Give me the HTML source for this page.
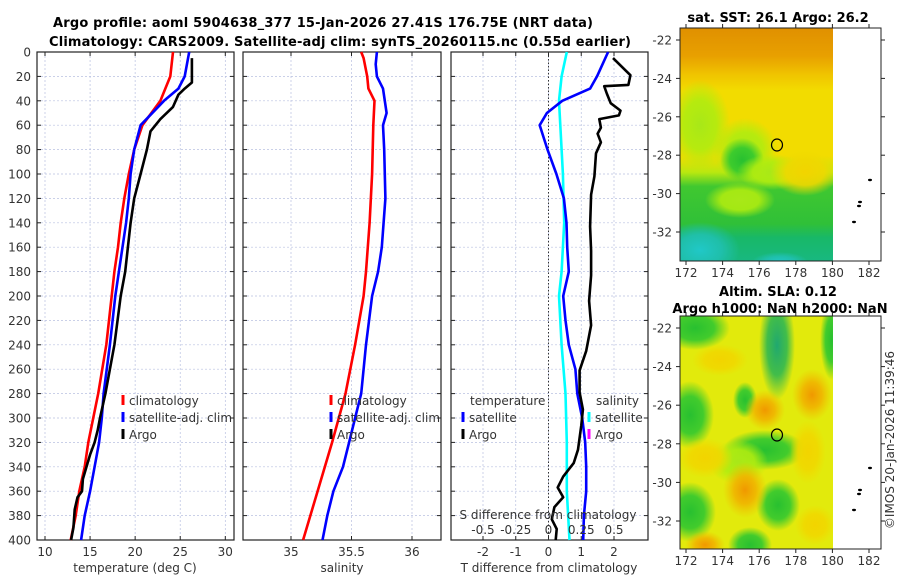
<!DOCTYPE html>
<html><head><meta charset="utf-8">
<style>
html,body{margin:0;padding:0;background:#fff;}
svg{display:block;font-family:"DejaVu Sans","Liberation Sans",sans-serif;}
.t{font-size:12px;fill:#333;}
.b{font-size:13px;font-weight:bold;fill:#000;}
</style></head>
<body>
<svg id="fig" width="900" height="580" viewBox="0 0 900 580" xmlns="http://www.w3.org/2000/svg">
<defs>
<radialGradient id="rgGreen"><stop offset="0" stop-color="#28c030"/><stop offset="0.55" stop-color="#30c830" stop-opacity="0.9"/><stop offset="1" stop-color="#30c830" stop-opacity="0"/></radialGradient>
<radialGradient id="rgTeal"><stop offset="0" stop-color="#20a870"/><stop offset="0.55" stop-color="#30b850" stop-opacity="0.9"/><stop offset="1" stop-color="#30b850" stop-opacity="0"/></radialGradient>
<radialGradient id="rgLime"><stop offset="0" stop-color="#a8e818"/><stop offset="0.55" stop-color="#b0ec10" stop-opacity="0.9"/><stop offset="1" stop-color="#b0ec10" stop-opacity="0"/></radialGradient>
<radialGradient id="rgOrange"><stop offset="0" stop-color="#f09800"/><stop offset="0.5" stop-color="#f0b400" stop-opacity="0.9"/><stop offset="1" stop-color="#f0c000" stop-opacity="0"/></radialGradient>
<radialGradient id="rgYellow"><stop offset="0" stop-color="#f2d400"/><stop offset="0.55" stop-color="#f0d800" stop-opacity="0.9"/><stop offset="1" stop-color="#f0dc00" stop-opacity="0"/></radialGradient>
<radialGradient id="rgCyan"><stop offset="0" stop-color="#20c8c8"/><stop offset="0.55" stop-color="#20c0b0" stop-opacity="0.9"/><stop offset="1" stop-color="#20c0b0" stop-opacity="0"/></radialGradient>
<linearGradient id="lgSST" x1="0" y1="0" x2="0" y2="1">
<stop offset="0" stop-color="#e09000"/><stop offset="0.12" stop-color="#e8a000"/><stop offset="0.2" stop-color="#f0c400"/><stop offset="0.27" stop-color="#f2dc00"/>
<stop offset="0.55" stop-color="#f2dc00"/><stop offset="0.62" stop-color="#b8e810"/><stop offset="0.68" stop-color="#40c830"/><stop offset="0.84" stop-color="#30c038"/><stop offset="0.9" stop-color="#18b868"/><stop offset="1" stop-color="#18b880"/>
</linearGradient>
<clipPath id="clipSST"><rect x="680" y="28" width="153" height="233"/></clipPath>
<clipPath id="clipSLA"><rect x="680" y="316" width="153" height="233"/></clipPath>
</defs>
<text class="b" x="323" y="27" text-anchor="middle" textLength="540">Argo profile: aoml 5904638_377 15-Jan-2026 27.41S 176.75E (NRT data)</text>
<text class="b" x="340" y="46" text-anchor="middle" textLength="582">Climatology: CARS2009. Satellite-adj clim: synTS_20260115.nc (0.55d earlier)</text>
<g id="panels"></g>

<!-- SST map -->
<g>
<g clip-path="url(#clipSST)">
<rect x="680" y="28" width="153" height="233" fill="url(#lgSST)"/>
<ellipse cx="700" cy="125" rx="30" ry="45" fill="url(#rgLime)"/>
<ellipse cx="745" cy="150" rx="32" ry="32" fill="url(#rgLime)"/>
<ellipse cx="742" cy="160" rx="22" ry="22" fill="url(#rgGreen)"/>
<ellipse cx="772" cy="172" rx="35" ry="18" fill="url(#rgLime)"/>
<ellipse cx="805" cy="172" rx="35" ry="24" fill="url(#rgYellow)"/>
<ellipse cx="740" cy="200" rx="35" ry="18" fill="url(#rgLime)"/>
<ellipse cx="700" cy="250" rx="40" ry="28" fill="url(#rgCyan)"/>
<ellipse cx="780" cy="262" rx="28" ry="10" fill="url(#rgCyan)"/>
</g>
<rect x="680" y="28" width="201" height="233" fill="none" stroke="#222" stroke-width="1"/>
<ellipse cx="777" cy="145" rx="5.5" ry="6" fill="none" stroke="#000" stroke-width="1.2"/>
<text class="b" x="778" y="22" text-anchor="middle">sat. SST: 26.1 Argo: 26.2</text>
</g>

<!-- SLA map -->
<g>
<g clip-path="url(#clipSLA)">
<rect x="680" y="316" width="153" height="233" fill="#e2ea0c"/>
<ellipse cx="695" cy="328" rx="35" ry="22" fill="url(#rgGreen)"/>
<ellipse cx="777" cy="345" rx="18" ry="55" fill="url(#rgTeal)"/>
<ellipse cx="832" cy="340" rx="12" ry="40" fill="url(#rgGreen)"/>
<ellipse cx="690" cy="415" rx="24" ry="34" fill="url(#rgGreen)"/>
<ellipse cx="745" cy="400" rx="12" ry="18" fill="url(#rgGreen)"/>
<ellipse cx="765" cy="450" rx="42" ry="20" fill="url(#rgGreen)"/>
<ellipse cx="738" cy="462" rx="30" ry="22" fill="url(#rgLime)"/>
<ellipse cx="690" cy="512" rx="26" ry="30" fill="url(#rgGreen)"/>
<ellipse cx="778" cy="505" rx="22" ry="26" fill="url(#rgGreen)"/>
<ellipse cx="750" cy="545" rx="22" ry="18" fill="url(#rgGreen)"/>
<ellipse cx="720" cy="360" rx="28" ry="16" fill="url(#rgYellow)"/>
<ellipse cx="765" cy="410" rx="20" ry="20" fill="url(#rgOrange)"/>
<ellipse cx="812" cy="395" rx="20" ry="26" fill="url(#rgOrange)"/>
<ellipse cx="745" cy="490" rx="22" ry="28" fill="url(#rgOrange)"/>
<ellipse cx="808" cy="452" rx="18" ry="32" fill="url(#rgYellow)"/>
<ellipse cx="705" cy="458" rx="28" ry="20" fill="url(#rgYellow)"/>
<ellipse cx="705" cy="545" rx="20" ry="14" fill="url(#rgOrange)"/>
<ellipse cx="815" cy="525" rx="20" ry="20" fill="url(#rgYellow)"/>
</g>
<rect x="680" y="316" width="201" height="233" fill="none" stroke="#222" stroke-width="1"/>
<ellipse cx="777" cy="435" rx="5.5" ry="6" fill="none" stroke="#000" stroke-width="1.2"/>
<text class="b" x="778" y="296" text-anchor="middle">Altim. SLA: 0.12</text>
<text class="b" x="780" y="313" text-anchor="middle">Argo h1000: NaN h2000: NaN</text>
</g>
<text class="t" transform="translate(894,440) rotate(-90)" text-anchor="middle">©IMOS 20-Jan-2026 11:39:46</text>
<g id="maps-axes"></g>
</svg>
<script>
// ---------- data ----------
const depthTicks = [0,20,40,60,80,100,120,140,160,180,200,220,240,260,280,300,320,340,360,380,400];
const tempTicks = [10,15,20,25,30];
const salTicks = [35,35.5,36];
const salTickLabels = ["35","35.5","36"];
const tdiffTicks = [-2,-1,0,1,2];
const sdiffTicks = [-0.5,-0.25,0,0.25,0.5];
const sdiffTickLabels = ["-0.5","-0.25","0","0.25","0.5"];
const lonTicks = [172,174,176,178,180,182];
const latTicks = [-22,-24,-26,-28,-30,-32];

const climTDepth = [0,20,40,60,80,100,120,140,160,180,200,240,280,320,340,360,380,400];
const climT = [24.2,23.9,22.8,20.8,19.9,19.3,18.8,18.4,18.1,17.7,17.4,16.8,15.9,14.8,14.4,13.8,13.4,12.85];
const satTDepth = [0,20,30,40,60,80,100,120,140,160,180,200,240,280,300,320,340,360,380,400];
const satT = [26.0,25.5,24.8,23.2,20.6,19.9,19.5,19.3,19.0,18.6,18.2,17.8,17.2,16.5,16.3,16.0,15.5,15.0,14.4,14.0];
const argoTDepth = [5,25,30,35,45,55,65,80,100,120,140,160,180,200,240,280,300,310,320,330,340,350,360,365,375,390,400];
const argoT = [26.3,26.3,25.5,24.8,24.2,22.8,21.7,21.3,20.6,19.9,19.5,19.2,18.9,18.4,17.7,16.7,16.1,15.85,15.5,15.0,14.6,14.2,14.1,13.6,13.3,13.15,12.9];

const climSDepth = [0,5,20,30,40,60,100,140,180,200,240,280,320,360,400];
const climS = [35.58,35.60,35.63,35.64,35.69,35.68,35.67,35.65,35.62,35.60,35.53,35.45,35.34,35.22,35.10];
const satSDepth = [0,10,20,30,50,60,80,120,160,180,200,240,280,300,320,340,360,380,400];
const satS = [35.71,35.70,35.71,35.76,35.79,35.76,35.77,35.78,35.75,35.72,35.67,35.62,35.58,35.53,35.48,35.43,35.35,35.30,35.26];

const satTdDepth = [0,20,30,40,50,60,80,100,120,140,160,180,200,220,240,260,280,300,320,340,360,380,400];
const satTd = [1.82,1.48,1.27,0.42,-0.05,-0.27,-0.03,0.24,0.47,0.55,0.57,0.62,0.45,0.52,0.62,0.82,0.88,1.03,1.12,1.15,1.15,1.08,1.06];
const satSdDepth = [0,20,40,60,100,140,180,200,240,280,320,360,400];
const satSd = [0.14,0.10,0.08,0.09,0.11,0.12,0.10,0.08,0.10,0.13,0.14,0.14,0.16];
const argoTdDepth = [5,19,27,28,34,42,48,52,55,62,67,74,83,102,117,143,163,183,204,224,245,261,279,293,306,326,337,348,357,365,373,383,391,400];
const argoTd = [1.97,2.5,2.44,1.7,1.78,1.9,2.2,2.15,1.55,1.6,1.5,1.6,1.45,1.4,1.3,1.27,1.3,1.3,1.24,1.3,1.15,0.95,0.95,1.05,1.0,0.9,0.77,0.45,0.28,0.45,0.18,0.1,0.25,0.22];

// ---------- helpers ----------
const NS = "http://www.w3.org/2000/svg";
const svg = document.getElementById('fig');
const panelsG = document.getElementById('panels');
function mk(tag, attrs, parent){ const e=document.createElementNS(NS,tag); for(const k in attrs) e.setAttribute(k,attrs[k]); (parent||panelsG).appendChild(e); return e; }
const yTop=52, yBot=540;
function yD(d){ return yTop + d*(yBot-yTop)/400; }
function lin(d0,d1,r0,r1){ return v=> r0+(v-d0)*(r1-r0)/(d1-d0); }

const panels = [
  {x0:37,x1:234,name:'temperature-panel'},
  {x0:243,x1:441,name:'salinity-panel'},
  {x0:451,x1:648,name:'difference-panel'}
];
const xT = lin(10,30,45,225.3);
const xS = lin(35,36,291,412);
const xTd = lin(-2,2,483,614);
const xSd = lin(-0.5,0.5,483,614);

function frame(p, xs, xfun){
  const g = mk('g',{});
  
  
  depthTicks.forEach(d=>{
    const y=yD(d);
    const gl=mk('line',{x1:p.x0,x2:p.x1,y1:y,y2:y,stroke:'#b8c0e0','stroke-width':0.7,'stroke-dasharray':'2,2'},g);
    
    
    mk('line',{x1:p.x0,x2:p.x0+4,y1:y,y2:y,stroke:'#222'},g);
    mk('line',{x1:p.x1-4,x2:p.x1,y1:y,y2:y,stroke:'#222'},g);
  });
  xs.forEach(v=>{
    const x=xfun(v);
    const gl=mk('line',{x1:x,x2:x,y1:yTop,y2:yBot,stroke:'#b8c0e0','stroke-width':0.7,'stroke-dasharray':'2,2'},g);
    
    
    mk('line',{x1:x,x2:x,y1:yBot-4,y2:yBot,stroke:'#222'},g);
    mk('line',{x1:x,x2:x,y1:yTop,y2:yTop+4,stroke:'#222'},g);
  });
  mk('rect',{x:p.x0,y:yTop,width:p.x1-p.x0,height:yBot-yTop,fill:'none',stroke:'#222','stroke-width':1.2},g);
  return g;
}
function line(ds, vs, xfun, color, name, w){
  const pts = ds.map((d,i)=> xfun(vs[i]).toFixed(1)+','+yD(d).toFixed(1)).join(' ');
  const pl = mk('polyline',{points:pts,fill:'none',stroke:color,'stroke-width':w||2.6,'stroke-linejoin':'round'});
  
  
  return pl;
}
function text(x,y,s,anchor,name,cls){
  const t=mk('text',{x:x,y:y,'text-anchor':anchor||'start',class:cls||'t'});
  t.textContent=s;
  
  
  return t;
}
function legendBar(x,y,color,name){
  const r=mk('rect',{x:x-1.5,y:y-10,width:3,height:10,fill:color});
  
  
}

depthTicks.forEach(d=>{ text(31, yD(d)+4.5, String(d), 'end', 'y-tick-label'); });

// panel 1
frame(panels[0], tempTicks, xT);
tempTicks.forEach(v=> text(xT(v), 556, String(v), 'middle', 'temp-tick-label'));
text(135, 572, 'temperature (deg C)', 'middle', 'temp-axis-title');
line(climTDepth, climT, xT, '#ff0000', 'clim-temperature-line');
line(satTDepth, satT, xT, '#0000ff', 'sat-temperature-line');
line(argoTDepth, argoT, xT, '#000000', 'argo-temperature-line');
legendBar(123,405,'#ff0000','legend-climatology-marker'); text(129,405,'climatology','start','legend-climatology');
legendBar(123,422,'#0000ff','legend-satellite-marker'); text(129,422,'satellite-adj. clim','start','legend-satellite');
legendBar(123,439,'#000000','legend-argo-marker'); text(129,439,'Argo','start','legend-argo');

// panel 2
frame(panels[1], salTicks, xS);
salTicks.forEach((v,i)=> text(xS(v), 556, salTickLabels[i], 'middle', 'sal-tick-label'));
text(342, 572, 'salinity', 'middle', 'sal-axis-title');
line(climSDepth, climS, xS, '#ff0000', 'clim-salinity-line');
line(satSDepth, satS, xS, '#0000ff', 'sat-salinity-line');
legendBar(331,405,'#ff0000','legend-climatology-marker-2'); text(337,405,'climatology','start','legend-climatology-2');
legendBar(331,422,'#0000ff','legend-satellite-marker-2'); text(337,422,'satellite-adj. clim','start','legend-satellite-2');
legendBar(331,439,'#000000','legend-argo-marker-2'); text(337,439,'Argo','start','legend-argo-2');

// panel 3
frame(panels[2], tdiffTicks, xTd);
const zl = mk('line',{x1:xTd(0),x2:xTd(0),y1:yTop,y2:yBot,stroke:'#333','stroke-width':1,'stroke-dasharray':'1.5,2'});


tdiffTicks.forEach(v=> text(xTd(v), 556, String(v), 'middle', 'tdiff-tick-label'));
text(549, 572, 'T difference from climatology', 'middle', 'tdiff-axis-title');
line(satSdDepth, satSd, xSd, '#00ffff', 'sat-salinity-diff-line');
line(satTdDepth, satTd, xTd, '#0000ff', 'sat-temperature-diff-line');
line(argoTdDepth, argoTd, xTd, '#000000', 'argo-temperature-diff-line');
text(548, 519, 'S difference from climatology', 'middle', 'sdiff-axis-title');
sdiffTicks.forEach((v,i)=> text(xSd(v), 534, sdiffTickLabels[i], 'middle', 'sdiff-tick-label'));
text(470, 405, 'temperature', 'start', 'legend-temperature-heading');
legendBar(463,422,'#0000ff','legend-t-satellite-marker'); text(469,422,'satellite','start','legend-t-satellite');
legendBar(463,439,'#000000','legend-t-argo-marker'); text(469,439,'Argo','start','legend-t-argo');
text(596, 405, 'salinity', 'start', 'legend-salinity-heading');
legendBar(589,422,'#00ffff','legend-s-satellite-marker'); text(595,422,'satellite','start','legend-s-satellite');
legendBar(589,439,'#ff00ff','legend-s-argo-marker'); text(595,439,'Argo','start','legend-s-argo');

// map axes
const mapsG = document.getElementById('maps-axes');
const xLon = lin(172,182,686,869);
[{top:28,bot:261,latY:lin(-22,-32,40,232),name:'sst'},{top:316,bot:549,latY:lin(-22,-32,328,521),name:'sla'}].forEach(m=>{
  lonTicks.forEach(v=>{
    const x=xLon(v);
    mk('line',{x1:x,x2:x,y1:m.bot,y2:m.bot+4,stroke:'#222'},mapsG);
    mk('line',{x1:x,x2:x,y1:m.top-4,y2:m.top,stroke:'#222'},mapsG);
    const t=mk('text',{x:x,y:m.bot+16,'text-anchor':'middle',class:'t'},mapsG);
    t.textContent=String(v);
    
    
  });
  latTicks.forEach(v=>{
    const y=m.latY(v);
    mk('line',{x1:676,x2:680,y1:y,y2:y,stroke:'#222'},mapsG);
    mk('line',{x1:881,x2:885,y1:y,y2:y,stroke:'#222'},mapsG);
    const t=mk('text',{x:672,y:y+4.5,'text-anchor':'end',class:'t'},mapsG);
    t.textContent=String(v);
    
    
  });
  const off = m.name==='sst'?0:288;
  [[870,180],[860,202],[859,206],[854,222]].forEach(p=> mk('ellipse',{cx:p[0],cy:p[1]+off,rx:2,ry:1.2,fill:'#000'},mapsG));
});
</script>
</body></html>
